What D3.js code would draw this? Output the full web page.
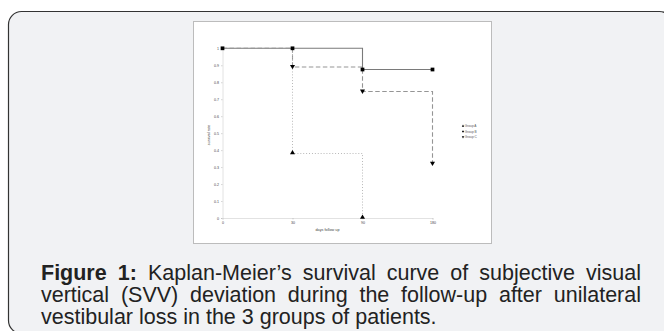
<!DOCTYPE html>
<html><head><meta charset="utf-8">
<script src="https://cdn.jsdelivr.net/npm/d3@7"></script>
<style>
html,body{margin:0;padding:0;background:#fff;width:664px;height:331px;overflow:hidden;}
#cap{position:absolute;left:41px;top:263px;width:600px;font-family:"Liberation Sans Narrow","Arial Narrow",sans-serif;font-size:21.5px;line-height:21.8px;color:#222;}
#cap div{text-align:justify;text-align-last:justify;white-space:nowrap;}
#cap div.last{text-align-last:left;}
</style></head>
<body>
<svg id="s" width="664" height="331" style="position:absolute;left:0;top:0"></svg>
<div id="cap">
<div><b>Figure 1:</b> Kaplan-Meier’s survival curve of subjective visual</div>
<div>vertical (SVV) deviation during the follow-up after unilateral</div>
<div class="last">vestibular loss in the 3 groups of patients.</div>
</div>
<script>
const days = ["0","30","90","180"];
const yTicks = [0,0.1,0.2,0.3,0.4,0.5,0.6,0.7,0.8,0.9,1];
const groupNames = ["Group A","Group B","Group C"];
const groupA = [1, 0.38, 0];          // at 0, 30, 90
const groupB = [1, 1, 0.875, 0.875];  // at 0, 30, 90, 180
const groupC = [1, 0.89, 0.745, 0.32];// at 0, 30, 90, 180

const svg = d3.select("#s");
svg.append("rect").attr("x",8.5).attr("y",11.5).attr("width",664).attr("height",322)
  .attr("rx",13).attr("fill","#f1f2f4").attr("stroke","#333").attr("stroke-width",1.2);
svg.append("rect").attr("x",193.5).attr("y",21.5).attr("width",298).attr("height",222)
  .attr("fill","#fff").attr("stroke","#bcbcbc").attr("stroke-width",1);

const x = d3.scalePoint().domain(days).range([222.5,432.5]);
const y = d3.scaleLinear().domain([0,1]).range([218,48.3]);
const g = svg.append("g");

const xa = g.append("g").attr("transform","translate(0,218)")
  .call(d3.axisBottom(x).tickSize(1.5).tickPadding(1.5));
const ya = g.append("g").attr("transform","translate(222.5,0)")
  .call(d3.axisLeft(y).tickValues(yTicks).tickSize(1.5).tickPadding(2).tickFormat(d=>d3.format("~g")(d)));
[xa,ya].forEach(a=>{
  a.select(".domain").attr("stroke","#e2e2e2").attr("stroke-width",1);
  a.selectAll(".tick line").attr("stroke","#999").attr("stroke-width",0.4);
  a.selectAll("text").attr("font-family","Arial, sans-serif").attr("font-size",3.6).attr("fill","#444");
});
g.append("text").attr("x",327.5).attr("y",231).attr("text-anchor","middle")
  .attr("font-family","Arial, sans-serif").attr("font-size",3.8).attr("fill","#444").text("days follow up");
g.append("text").attr("transform","translate(210,135) rotate(-90)").attr("text-anchor","middle")
  .attr("font-family","Arial, sans-serif").attr("font-size",3.8).attr("fill","#444").text("survival rate");

function stepPts(vals){
  const pts=[];
  vals.forEach((v,i)=>{
    if(i>0) pts.push([x(days[i]), y(vals[i-1])]);
    pts.push([x(days[i]), y(v)]);
  });
  return pts;
}
const line = d3.line();
g.append("path").attr("d",line(stepPts(groupB))).attr("fill","none").attr("stroke","#7a7a7a").attr("stroke-width",1.1);
g.append("path").attr("d",line(stepPts(groupC))).attr("fill","none").attr("stroke","#959595").attr("stroke-width",1.1).attr("stroke-dasharray","4.5,2.5");
const aPts = stepPts(groupA);
g.append("path").attr("d",line(aPts.slice(1))).attr("fill","none").attr("stroke","#a8a8a8").attr("stroke-width",0.9).attr("stroke-dasharray","0.9,2");

const sq = d3.symbol().type(d3.symbolSquare).size(14);
const tri = d3.symbol().type(d3.symbolTriangle).size(11);
groupB.forEach((v,i)=>g.append("path").attr("d",sq()).attr("transform",`translate(${x(days[i])},${y(v)})`).attr("fill","#000"));
groupC.forEach((v,i)=>{ if(i>0) g.append("path").attr("d",tri()).attr("transform",`translate(${x(days[i])},${y(v)-0.6}) rotate(180)`).attr("fill","#000");});
groupA.forEach((v,i)=>{ if(i>0) g.append("path").attr("d",tri()).attr("transform",`translate(${x(days[i])},${y(v)-0.6})`).attr("fill","#000");});

const leg = g.append("g").attr("transform","translate(463,126)");
groupNames.forEach((n,i)=>{
  const gy=i*5.5;
  const s = i===1 ? d3.symbol().type(d3.symbolSquare).size(3)() : d3.symbol().type(d3.symbolTriangle).size(2.5)();
  leg.append("path").attr("d",s).attr("transform",`translate(0,${gy})`+(i===2?" rotate(180)":"")).attr("fill","#000");
  leg.append("text").attr("x",1.8).attr("y",gy+1.1).attr("font-family","Arial, sans-serif").attr("font-size",3.2).attr("fill","#555").text(n);
});
</script>
</body></html>
